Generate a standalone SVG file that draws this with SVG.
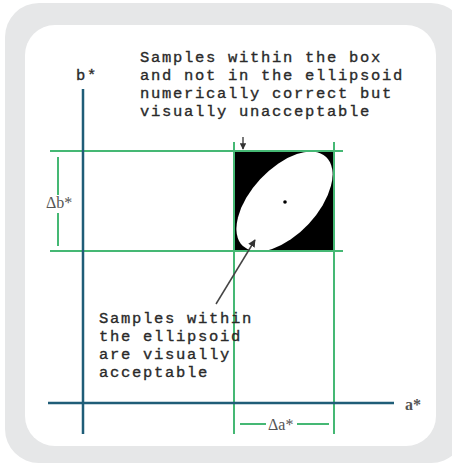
<svg xmlns="http://www.w3.org/2000/svg" width="452" height="465" viewBox="0 0 452 465">
<style>
.mono{font-family:"Liberation Mono","Courier New",monospace;font-size:15.5px;letter-spacing:1.7px;fill:#2a2a2a;stroke:#2a2a2a;stroke-width:0.35px;}
.ser{font-family:"Liberation Serif","Times New Roman",serif;fill:#555;}
.g{stroke:#45b874;stroke-width:2;fill:none;}
.ax{stroke:#1f5d78;stroke-width:2.5;fill:none;}
</style>
<defs>
<marker id="ah" viewBox="0 0 10 10" refX="9" refY="5" markerWidth="5" markerHeight="5" orient="auto">
<path d="M0,0 L10,5 L0,10 z" fill="#333"/>
</marker>
<clipPath id="bx"><rect x="234" y="151" width="100" height="100"/></clipPath>
</defs>
<rect x="5" y="3" width="460" height="460" rx="34" fill="#e6e7e8"/>
<rect x="25" y="25" width="411" height="421" rx="30" fill="#ffffff"/>
<g id="box">
<rect x="234" y="151" width="100" height="100" fill="#000"/>
<g clip-path="url(#bx)">
<ellipse cx="284.5" cy="201.5" rx="61" ry="33" transform="rotate(-47 284.5 201.5)" fill="#fff"/>
</g>
<circle cx="285" cy="202" r="1.8" fill="#000"/>
</g>
<g id="connectors">
<line class="g" x1="50" y1="151" x2="343" y2="151"/>
<line class="g" x1="50" y1="251" x2="343" y2="251"/>
<line class="g" x1="234" y1="142" x2="234" y2="434"/>
<line class="g" x1="334" y1="142" x2="334" y2="434"/>
<line class="g" x1="58" y1="157" x2="58" y2="195"/>
<line class="g" x1="58" y1="213" x2="58" y2="246"/>
<line class="g" x1="240" y1="424" x2="266" y2="424"/>
<line class="g" x1="297" y1="424" x2="329" y2="424"/>
<line class="ax" x1="83" y1="89" x2="83" y2="434"/>
<line class="ax" x1="48" y1="403" x2="394" y2="403"/>
<line x1="216" y1="304" x2="255" y2="240" stroke="#444" stroke-width="1.5" marker-end="url(#ah)"/>
<line x1="243" y1="137" x2="243" y2="149" stroke="#333" stroke-width="1.3" marker-end="url(#ah)"/>
</g>
<g id="labels">
<text class="mono" x="76" y="80">b*</text>
<text class="mono" x="140" y="62">Samples within the box</text>
<text class="mono" x="140" y="80">and not in the ellipsoid</text>
<text class="mono" x="140" y="98">numerically correct but</text>
<text class="mono" x="140" y="116">visually unacceptable</text>
<text class="mono" x="99" y="323">Samples within</text>
<text class="mono" x="99" y="341">the ellipsoid</text>
<text class="mono" x="99" y="359">are visually</text>
<text class="mono" x="99" y="377">acceptable</text>
<text class="ser" x="46" y="208" font-size="16">Δb*</text>
<text class="ser" x="268" y="430" font-size="16">Δa*</text>
<text class="ser" x="405" y="410" font-size="16" font-weight="bold">a*</text>
</g>
</svg>
